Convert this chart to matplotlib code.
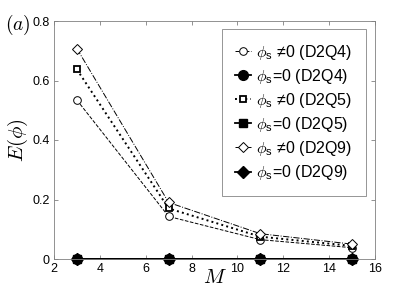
import numpy as np
import matplotlib
matplotlib.use('Agg')
import matplotlib.pyplot as plt

plt.rcParams['font.family'] = ['Liberation Sans', 'DejaVu Sans']
plt.rcParams['mathtext.fontset'] = 'cm'

M = [3, 7, 11, 15]
err_d2q4 = [0.534, 0.143, 0.065, 0.038]
err_d2q5 = [0.637, 0.170, 0.075, 0.044]
err_d2q9 = [0.707, 0.190, 0.085, 0.050]
zero = [0, 0, 0, 0]

fig = plt.figure(figsize=(4.15, 2.91), dpi=100)
ax = fig.add_axes([54/415, 1 - 259/291, (375-54)/415, (259-21)/291])

ax.plot(M, err_d2q4, '--', color='k', lw=0.7, marker='o', mfc='w', mec='k', ms=5.5, mew=0.7,
        label=r'$\phi_\mathregular{s}$ ≠0 (D2Q4)')
ax.plot(M, zero, '-', color='k', lw=1.3, marker='o', mfc='k', mec='k', ms=7, clip_on=False,
        label=r'$\phi_\mathregular{s}$=0 (D2Q4)')
ax.plot(M, err_d2q5, ':', color='k', lw=1.4, marker='s', mfc='w', mec='k', ms=5, mew=1.3,
        label=r'$\phi_\mathregular{s}$ ≠0 (D2Q5)')
ax.plot(M, zero, '-', color='k', lw=1.3, marker='s', mfc='k', mec='k', ms=5.5, clip_on=False,
        label=r'$\phi_\mathregular{s}$=0 (D2Q5)')
ax.plot(M, err_d2q9, '-.', color='k', lw=0.7, marker='D', mfc='w', mec='k', ms=5, mew=0.7,
        label=r'$\phi_\mathregular{s}$ ≠0 (D2Q9)')
ax.plot(M, zero, '-', color='k', lw=1.3, marker='D', mfc='k', mec='k', ms=6.5, clip_on=False,
        label=r'$\phi_\mathregular{s}$=0 (D2Q9)')

ax.set_xlim(2, 16)
ax.set_ylim(0, 0.8)
ax.set_xticks(np.arange(2, 17, 2))
ax.set_yticks([0, 0.2, 0.4, 0.6, 0.8])
ax.set_yticklabels(['0', '0.2', '0.4', '0.6', '0.8'])
ax.tick_params(direction='in', top=True, right=True, labelsize=9, length=3, width=0.5,
               color='0.4', pad=3)
for s in ax.spines.values():
    s.set_linewidth(0.6)
    s.set_color('0.5')

ax.set_xlabel(r'$M$', fontsize=15, labelpad=-5)
ax.set_ylabel(r'$E(\phi)$', fontsize=15, labelpad=2)
fig.text(5/415, 1 - 25/291, r'$(a)$', fontsize=14, va='center')

leg = ax.legend(loc='upper right', bbox_to_anchor=(1 - 9/321, 1 - 8/238), fontsize=11.5,
                frameon=True, fancybox=False, edgecolor='0.4', handlelength=1.0,
                handletextpad=0.3, labelspacing=0.32, borderpad=0.85, borderaxespad=0)
leg.get_frame().set_linewidth(0.6)

fig.savefig('out.png', dpi=100)
